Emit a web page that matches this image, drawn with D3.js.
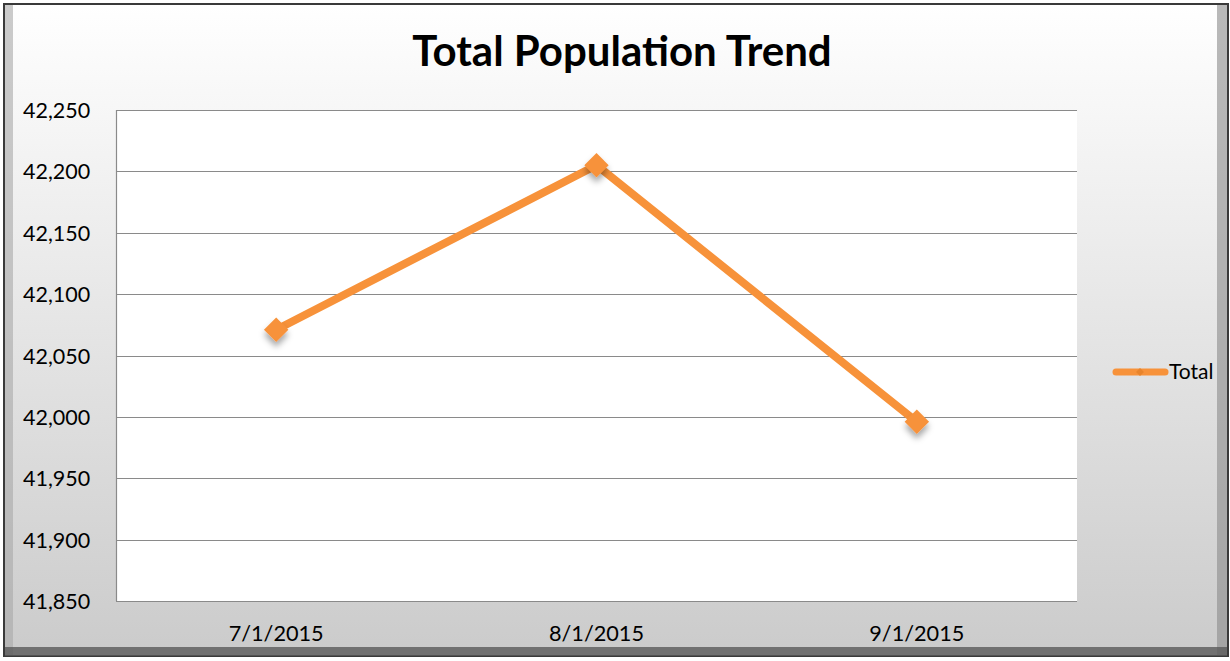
<!DOCTYPE html>
<html>
<head>
<meta charset="utf-8">
<script src="https://cdn.jsdelivr.net/npm/d3@7"></script>
<style>
  body { margin: 0; background: #fff; }
  text { font-family: Lato, Carlito, "Open Sans", sans-serif; }
</style>
</head>
<body>
<svg id="chart" width="1230" height="661"></svg>
<script>
var categories = ["7/1/2015", "8/1/2015", "9/1/2015"];
var totals = [42071, 42205, 41996];
var yTicks = [41850, 41900, 41950, 42000, 42050, 42100, 42150, 42200, 42250];
var seriesName = "Total";

var svg = d3.select("#chart");
var W = 1230, H = 661;
var plot = { left: 116, top: 110, right: 1077, bottom: 601 };
var orange = "#F7923A";

// background with gradient + bevel
var defs = svg.append("defs");
var grad = defs.append("linearGradient").attr("id", "bg").attr("x1", 0).attr("y1", 0).attr("x2", 0).attr("y2", 1);
grad.append("stop").attr("offset", "0%").attr("stop-color", "#ffffff");
grad.append("stop").attr("offset", "100%").attr("stop-color", "#cbcbcb");

var shadow = defs.append("filter").attr("id", "shadow").attr("x", "-50%").attr("y", "-50%").attr("width", "200%").attr("height", "200%");
shadow.append("feDropShadow").attr("dx", 0).attr("dy", 5).attr("stdDeviation", 3).attr("flood-color", "#000").attr("flood-opacity", 0.35);

svg.append("rect").attr("x", 0).attr("y", 0).attr("width", W).attr("height", H).attr("fill", "#fff");
svg.append("rect").attr("x", 4).attr("y", 4).attr("width", 1224).attr("height", 652)
  .attr("fill", "url(#bg)").attr("stroke", "#3a3a3a").attr("stroke-width", 2);
// bevel edges
svg.append("rect").attr("x", 5).attr("y", 5).attr("width", 8).attr("height", 650).attr("fill", "#a8a8a8").attr("opacity", 0.6);
svg.append("rect").attr("x", 1217).attr("y", 5).attr("width", 10).attr("height", 650).attr("fill", "#8a8a8a").attr("opacity", 0.6);
svg.append("rect").attr("x", 5).attr("y", 647).attr("width", 1222).attr("height", 9).attr("fill", "#5a5a5a").attr("opacity", 0.8);

// scales
var x = d3.scaleBand().domain(categories).range([plot.left, plot.right]);
var y = d3.scaleLinear().domain([41850, 42250]).range([plot.bottom, plot.top]);

svg.append("rect").attr("x", plot.left).attr("y", plot.top)
  .attr("width", plot.right - plot.left).attr("height", plot.bottom - plot.top).attr("fill", "#fff");

// gridlines
svg.append("g").selectAll("line").data(yTicks).enter().append("line")
  .attr("x1", plot.left).attr("x2", plot.right)
  .attr("y1", function(d) { return Math.round(y(d)) + 0.5; })
  .attr("y2", function(d) { return Math.round(y(d)) + 0.5; })
  .attr("stroke", "#8a8a8a").attr("stroke-width", 1.2);
svg.append("line").attr("x1", plot.left + 0.5).attr("x2", plot.left + 0.5)
  .attr("y1", plot.top).attr("y2", plot.bottom).attr("stroke", "#8a8a8a").attr("stroke-width", 1.2);

// y labels
svg.append("g").selectAll("text").data(yTicks).enter().append("text")
  .attr("x", 23).attr("y", function(d) { return y(d) + 8; })
  .style("font-size", "21.5px").attr("fill", "#000")
  .text(function(d) { return d3.format(",")(d); });

// x labels
svg.append("g").selectAll("text").data(categories).enter().append("text")
  .attr("x", function(d) { return x(d) + x.bandwidth() / 2; })
  .attr("y", 641).attr("text-anchor", "middle")
  .style("font-size", "21.7px").attr("fill", "#000")
  .text(function(d) { return d; });

// title
svg.append("text").attr("x", 622).attr("y", 66).attr("text-anchor", "middle")
  .style("font-size", "42px").style("font-weight", "bold").attr("fill", "#000")
  .text("Total Population Trend");

// line + markers
var pts = categories.map(function(c, i) { return { c: c, v: totals[i] }; });
var line = d3.line().x(function(d) { return x(d.c) + x.bandwidth() / 2; }).y(function(d) { return y(d.v); });
svg.append("path").datum(pts).attr("d", line).attr("fill", "none")
  .attr("stroke", orange).attr("stroke-width", 8).attr("stroke-linejoin", "round").attr("stroke-linecap", "round");

var diamond = d3.symbol().type(d3.symbolDiamond2).size(380);
svg.append("g").selectAll("path").data(pts).enter().append("path")
  .attr("d", diamond)
  .attr("transform", function(d) { return "translate(" + (x(d.c) + x.bandwidth() / 2) + "," + y(d.v) + ")"; })
  .attr("fill", orange).attr("filter", "url(#shadow)");

// legend
var lg = svg.append("g");
lg.append("line").attr("x1", 1116).attr("x2", 1165).attr("y1", 372).attr("y2", 372)
  .attr("stroke", orange).attr("stroke-width", 7).attr("stroke-linecap", "round");
lg.append("path").attr("d", d3.symbol().type(d3.symbolDiamond2).size(40)).attr("transform", "translate(1140,372)").attr("fill", "#e8842c");
lg.append("text").attr("x", 1169).attr("y", 379).style("font-size", "21px").attr("fill", "#000").text(seriesName);
</script>
</body>
</html>
